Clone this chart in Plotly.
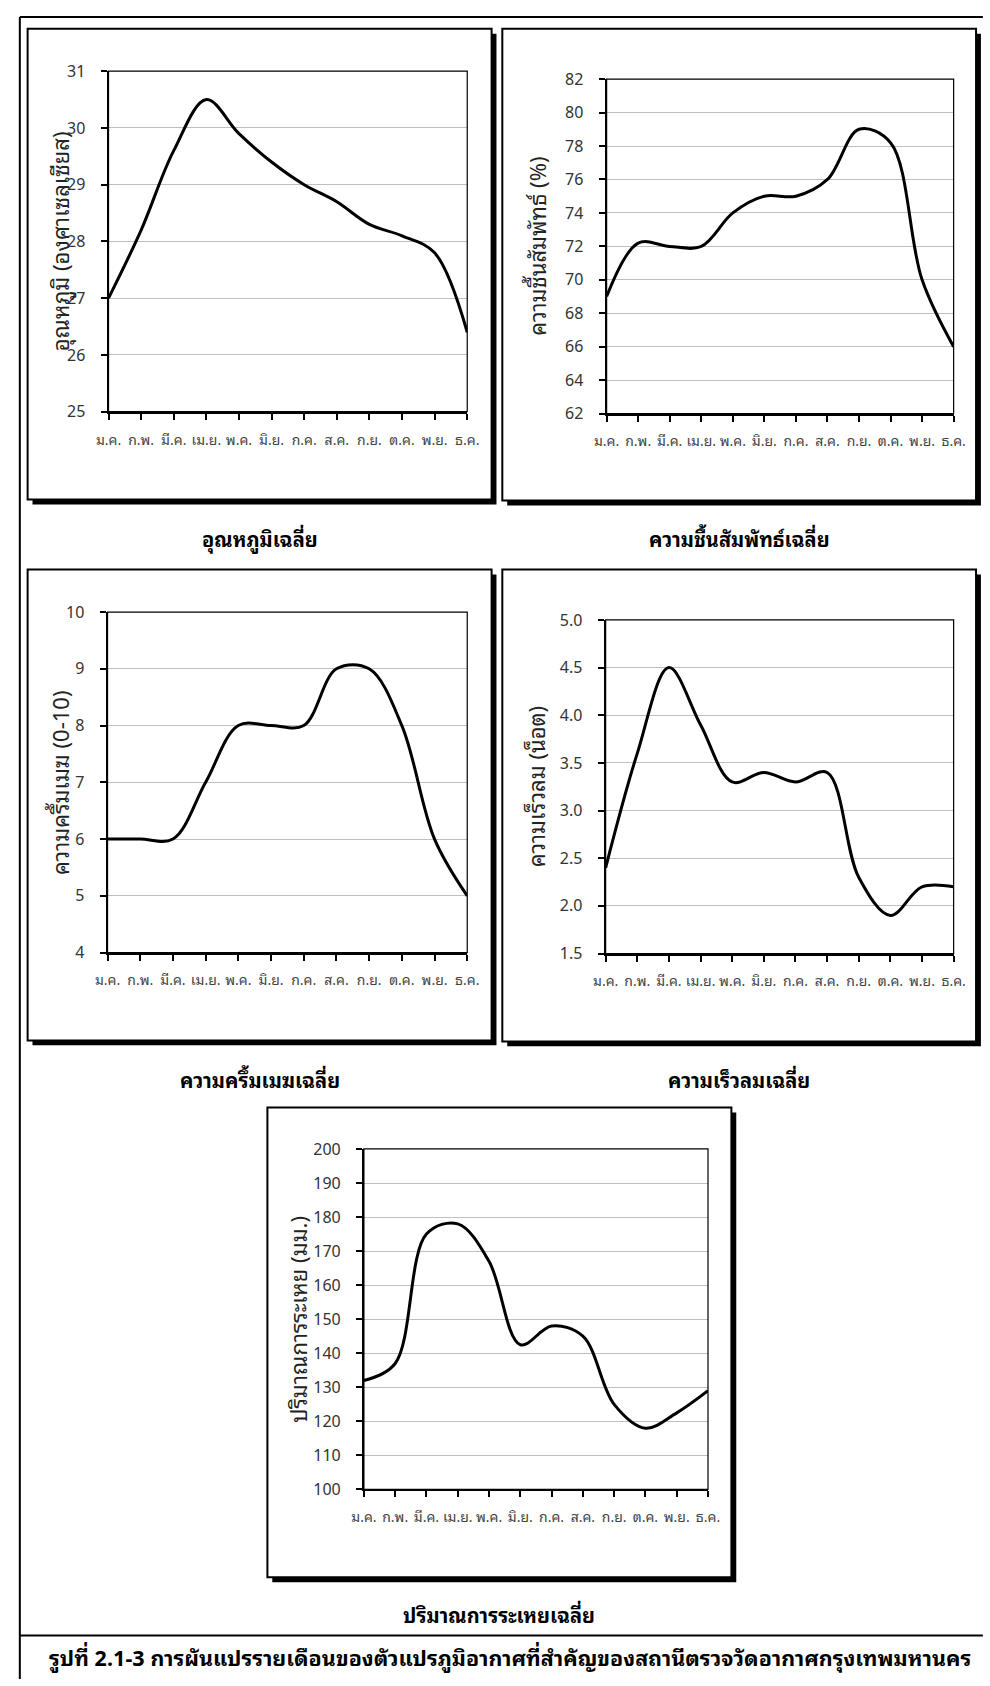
import plotly.graph_objects as go

W, H = 990, 1686

months = ["ม.ค.", "ก.พ.", "มี.ค.", "เม.ย.", "พ.ค.", "มิ.ย.", "ก.ค.", "ส.ค.", "ก.ย.", "ต.ค.", "พ.ย.", "ธ.ค."]

temperature = [27.0, 28.2, 29.6, 30.5, 29.9, 29.4, 29.0, 28.7, 28.3, 28.1, 27.8, 26.4]
humidity = [69.0, 72.2, 72.0, 72.0, 74.0, 75.0, 75.0, 76.0, 79.0, 78.2, 70.0, 66.0]
cloud = [6.0, 6.0, 6.0, 7.0, 8.0, 8.0, 8.0, 9.0, 9.0, 8.0, 6.0, 5.0]
wind = [2.4, 3.6, 4.5, 3.9, 3.3, 3.4, 3.3, 3.4, 2.3, 1.9, 2.2, 2.2]
evaporation = [132, 137, 175, 178, 167, 142.5, 148, 145, 125, 118, 122.5, 129]

series = [temperature, humidity, cloud, wind, evaporation]
y_titles = ["อุณหภูมิ (องศาเซลเซียส)", "ความชื้นสัมพัทธ์ (%)", "ความครึ้มเมฆ (0-10)",
            "ความเร็วลม (น็อต)", "ปริมาณการระเหย (มม.)"]
panel_titles = ["อุณหภูมิเฉลี่ย", "ความชื้นสัมพัทธ์เฉลี่ย", "ความครึ้มเมฆเฉลี่ย",
                "ความเร็วลมเฉลี่ย", "ปริมาณการระเหยเฉลี่ย"]
y_ranges = [(25, 31), (62, 82), (4, 10), (1.5, 5.0), (100, 200)]
y_dticks = [1, 2, 1, 0.5, 10]
y_formats = ["d", "d", "d", ".1f", "d"]
caption = "รูปที่ 2.1-3 การผันแปรรายเดือนของตัวแปรภูมิอากาศที่สำคัญของสถานีตรวจวัดอากาศกรุงเทพมหานคร"

# layout geometry (pixels)
plot_rects = [(98, 466, 61, 406), (609, 965, 69, 408), (97, 466, 609, 954),
              (608, 965, 617, 955), (360, 713, 1153, 1498)]
boxes = [(15, 491, 18, 495), (502, 988, 18, 496), (15, 491, 566, 1043),
         (502, 988, 566, 1044), (261, 737, 1111, 1587)]
ytitle_x = [48, 537, 47, 535, 292]
title_pos = [(253, 534), (745, 534), (253, 1082), (745, 1082), (499, 1624)]

FONT = "'Noto Sans Thai Looped', 'Noto Sans Thai', Tahoma, 'Noto Sans', sans-serif"
NUM_FONT = "Tahoma, 'Noto Sans', 'DejaVu Sans', sans-serif"

def px(x):
    return x / W

def py(y):
    return 1 - y / H

fig = go.Figure()
shapes = []
annotations = []

# outer frame
shapes.append(dict(type="line", xref="paper", yref="paper", x0=px(7), x1=px(995), y0=py(6), y1=py(6),
                   line=dict(color="black", width=2)))
shapes.append(dict(type="line", xref="paper", yref="paper", x0=px(7), x1=px(7), y0=py(6), y1=py(1690),
                   line=dict(color="black", width=2)))
shapes.append(dict(type="line", xref="paper", yref="paper", x0=px(7), x1=px(995), y0=py(1646), y1=py(1646),
                   line=dict(color="black", width=2)))

for (x0, x1, y0, y1) in boxes:
    shapes.append(dict(type="rect", xref="paper", yref="paper", layer="below",
                       x0=px(x0 + 5), x1=px(x1 + 5), y0=py(y0 + 5), y1=py(y1 + 5),
                       fillcolor="black", line=dict(width=0)))
    shapes.append(dict(type="rect", xref="paper", yref="paper", layer="below",
                       x0=px(x0), x1=px(x1), y0=py(y0), y1=py(y1),
                       fillcolor="white", line=dict(color="black", width=2)))

layout_axes = {}
for i in range(5):
    n = "" if i == 0 else str(i + 1)
    xa, ya = "x" + n, "y" + n
    fig.add_trace(go.Scatter(
        x=list(range(len(months))), y=series[i], mode="lines",
        line=dict(color="black", width=3, shape="spline", smoothing=1.0),
        xaxis=xa, yaxis=ya, showlegend=False, hoverinfo="skip"))
    x0, x1, y0, y1 = plot_rects[i]
    layout_axes["xaxis" + n] = dict(
        domain=[px(x0), px(x1)], anchor=ya, range=[0, len(months) - 1],
        tickmode="array", tickvals=list(range(len(months))), ticktext=months,
        ticks="outside", ticklen=6, tickwidth=1.5, tickcolor="black", tickangle=0,
        showline=True, linewidth=2, linecolor="black", showgrid=False, zeroline=False,
        tickfont=dict(family=FONT, size=14, color="#444444"), ticklabelstandoff=8,
        fixedrange=True)
    lo, hi = y_ranges[i]
    layout_axes["yaxis" + n] = dict(
        domain=[py(y1), py(y0)], anchor=xa, range=[lo, hi], dtick=y_dticks[i], tick0=lo,
        tickformat=y_formats[i],
        ticks="outside", ticklen=6, tickwidth=1.5, tickcolor="black",
        showline=True, linewidth=2, linecolor="black",
        showgrid=True, gridcolor="#bfbfbf", gridwidth=1, zeroline=False,
        tickfont=dict(family=NUM_FONT, size=16, color="#333333"), ticklabelstandoff=12,
        fixedrange=True)
    # thin top/right border of plot area
    shapes.append(dict(type="rect", xref=xa + " domain", yref=ya + " domain",
                       x0=0, x1=1, y0=0, y1=1, line=dict(color="black", width=1.2), layer="above"))
    annotations.append(dict(
        text=y_titles[i], xref="paper", yref="paper", x=px(ytitle_x[i]), y=py((y0 + y1) / 2),
        xanchor="center", yanchor="middle", textangle=-90, showarrow=False,
        font=dict(family=FONT, size=22, color="#222222")))
    tx, ty = title_pos[i]
    annotations.append(dict(
        text="<b>" + panel_titles[i] + "</b>", xref="paper", yref="paper", x=px(tx), y=py(ty),
        xanchor="center", yanchor="middle", showarrow=False,
        font=dict(family=FONT, size=20, color="black")))

annotations.append(dict(
    text="<b>" + caption + "</b>", xref="paper", yref="paper", x=px(510), y=py(1667),
    xanchor="center", yanchor="middle", showarrow=False,
    font=dict(family=FONT, size=21.5, color="black")))

fig.update_layout(
    width=W, height=H, margin=dict(l=0, r=0, t=0, b=0, pad=0),
    paper_bgcolor="white", plot_bgcolor="white",
    shapes=shapes, annotations=annotations, showlegend=False,
    **layout_axes)

fig.write_html("out.html", config={"displayModeBar": False},
               post_script="document.body.style.margin='0';document.body.style.padding='0';"
                           "document.documentElement.style.margin='0';")
